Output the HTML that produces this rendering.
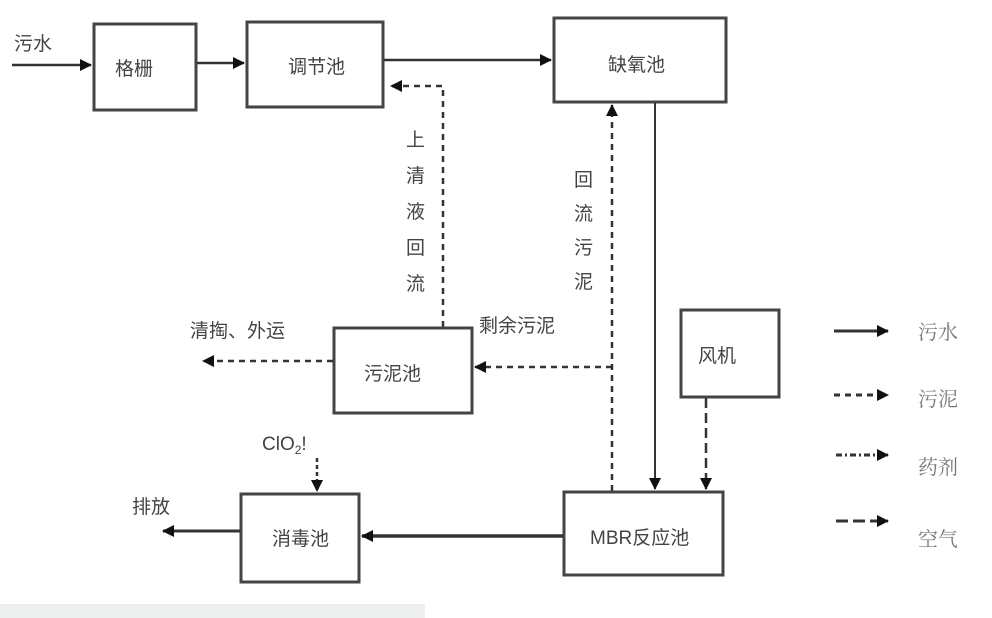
<!DOCTYPE html>
<html><head><meta charset="utf-8"><style>
html,body{margin:0;padding:0;background:#fff;}
svg{display:block;}
text{font-family:"Liberation Sans","Noto Sans CJK SC",sans-serif;fill:#444;}
.s{font-family:"Liberation Serif","Noto Serif CJK SC",serif;fill:#777;}
</style></head><body>
<svg width="992" height="618" viewBox="0 0 992 618" xmlns="http://www.w3.org/2000/svg">
<defs>
<marker id="b" markerWidth="12" markerHeight="12" refX="11" refY="6" orient="auto" markerUnits="userSpaceOnUse" viewBox="0 0 12 12"><path d="M0,0 L12,6 L0,12 z" fill="#111"/></marker>
</defs>
<g fill="none" stroke="#444" stroke-width="3">
<rect x="94" y="24" width="102" height="86"/>
<rect x="247" y="22" width="136" height="85"/>
<rect x="554" y="18" width="172" height="84"/>
<rect x="334" y="328" width="138" height="85"/>
<rect x="681" y="310" width="98" height="87"/>
<rect x="564" y="492" width="159" height="83"/>
<rect x="241" y="494" width="118" height="88"/>
</g>
<g stroke="#333" fill="none" stroke-width="2.5">
<line x1="12" y1="65" x2="91" y2="65" marker-end="url(#b)"/>
<line x1="197" y1="63" x2="244" y2="63" marker-end="url(#b)"/>
<line x1="384" y1="60" x2="551" y2="60" marker-end="url(#b)"/>
<line x1="655" y1="103" x2="655" y2="489" stroke-width="2" marker-end="url(#b)"/>
<line x1="563" y1="536" x2="362" y2="536" stroke-width="3.5" marker-end="url(#b)"/>
<line x1="240" y1="531" x2="163" y2="531" stroke-width="3" marker-end="url(#b)"/>
</g>
<g stroke="#333" fill="none" stroke-width="2.5" stroke-dasharray="6,5">
<polyline points="443,327 443,86 391,86" marker-end="url(#b)"/>
<line x1="612" y1="491" x2="612" y2="105" marker-end="url(#b)"/>
<line x1="612" y1="367" x2="475" y2="367" marker-end="url(#b)"/>
<line x1="333" y1="361" x2="203" y2="361" marker-end="url(#b)"/>
<line x1="706" y1="398" x2="706" y2="489" stroke-dasharray="10,5" marker-end="url(#b)"/>
<line x1="317" y1="458" x2="317" y2="491" stroke-dasharray="4,3" marker-end="url(#b)"/>
</g>
<g stroke="#333" stroke-width="3" fill="none">
<line x1="834" y1="331" x2="888" y2="331" marker-end="url(#b)"/>
<line x1="834" y1="395" x2="888" y2="395" stroke-dasharray="6,5" marker-end="url(#b)"/>
<line x1="836" y1="455" x2="888" y2="455" stroke-dasharray="6,3,2,3" marker-end="url(#b)"/>
<line x1="836" y1="521" x2="888" y2="521" stroke-dasharray="12,5" marker-end="url(#b)"/>
</g>
<g font-size="19">
<text x="14" y="50">污水</text>
<text x="115" y="75">格栅</text>
<text x="288" y="73">调节池</text>
<text x="608" y="71">缺氧池</text>
<text x="364" y="380">污泥池</text>
<text x="698" y="362">风机</text>
<text x="272" y="545">消毒池</text>
<text x="590" y="544">MBR反应池</text>
<text x="190" y="337">清掏、外运</text>
<text x="479" y="332">剩余污泥</text>
<text x="132" y="513">排放</text>
<text x="262" y="450">ClO<tspan font-size="12" dy="4">2</tspan><tspan dy="-4">!</tspan></text>
</g>
<g font-size="19">
<text x="406" y="146">上</text><text x="406" y="182">清</text><text x="406" y="218">液</text><text x="406" y="254">回</text><text x="406" y="290">流</text>
<text x="574" y="186">回</text><text x="574" y="220">流</text><text x="574" y="254">污</text><text x="574" y="288">泥</text>
</g>
<g font-size="20">
<text class="s" x="918" y="339">污水</text>
<text class="s" x="918" y="406">污泥</text>
<text class="s" x="918" y="474">药剂</text>
<text class="s" x="918" y="546">空气</text>
</g>
<rect x="0" y="604" width="425" height="14" fill="#eef0f0"/>
</svg>
</body></html>
